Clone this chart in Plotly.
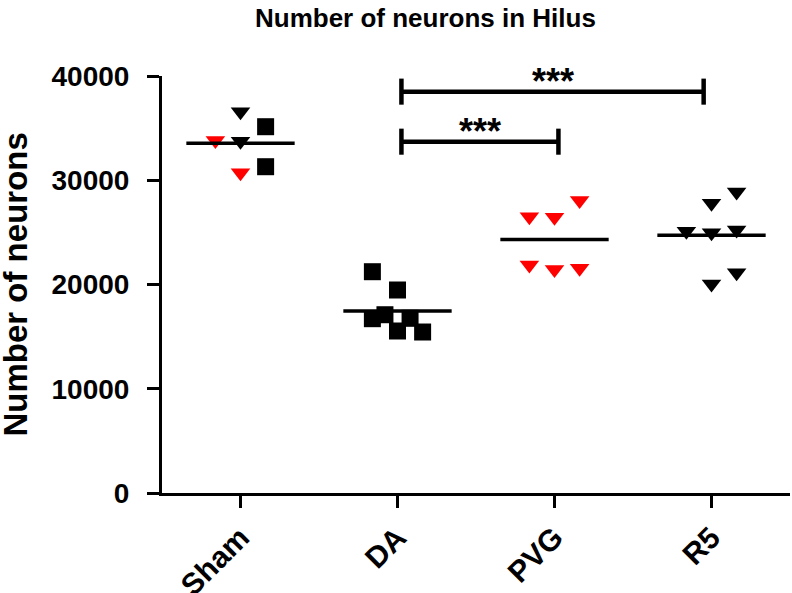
import numpy as np
import plotly.graph_objects as go

# ---------------- data ----------------
groups = ["Sham", "DA", "PVG", "R5"]

sham_black_tri = [36574, 33735]
sham_black_tri_slot = [0, 0]
sham_red_tri = [33812, 30714]
sham_red_tri_slot = [-1, 0]
sham_square = [35136, 31299]
sham_square_slot = [1, 1]

da_square = [21227, 19472, 16720, 17100, 15540, 16757, 15443]
da_square_slot = [-1, 0, -1, -0.5, 0, 0.5, 1]

pvg_red_tri = [26494, 26456, 28057, 21870, 21438, 21553]
pvg_red_tri_slot = [-1, 0, 1, -1, 0, 1]

r5_black_tri = [27788, 28872, 25102, 24958, 25227, 21132, 20058]
r5_black_tri_slot = [0, 1, -1, 0, 1, 1, 0]

y_ticks = [0, 10000, 20000, 30000, 40000]

comparison_from = ["DA", "DA"]
comparison_to = ["R5", "PVG"]
comparison_y = [38500, 33700]
comparison_label = ["***", "***"]

title_text = "Number of neurons in Hilus"
y_title = "Number of neurons"

# ---------------- styling ----------------
FONT = "Liberation Sans, Arial, sans-serif"
SLOT_W = 0.16          # horizontal spread of one scatter slot (category units)
MEAN_HALF = 0.345      # half width of mean line
CAP = 1250             # half height of comparison bar caps
RED = "#ff0000"
BLACK = "#000000"

gx = {g: i for i, g in enumerate(groups)}

fig = go.Figure()


def add_points(group, values, slots, symbol, color, size):
    fig.add_trace(go.Scatter(
        x=[gx[group] + s * SLOT_W for s in slots],
        y=values,
        mode="markers",
        marker=dict(symbol=symbol, color=color, size=size, line=dict(width=0)),
        showlegend=False, hoverinfo="y",
    ))


add_points("Sham", sham_black_tri, sham_black_tri_slot, "triangle-down", BLACK, 17)
add_points("Sham", sham_red_tri, sham_red_tri_slot, "triangle-down", RED, 17)
add_points("Sham", sham_square, sham_square_slot, "square", BLACK, 17)
add_points("DA", da_square, da_square_slot, "square", BLACK, 17)
add_points("PVG", pvg_red_tri, pvg_red_tri_slot, "triangle-down", RED, 17)
add_points("R5", r5_black_tri, r5_black_tri_slot, "triangle-down", BLACK, 17)

group_values = {
    "Sham": sham_black_tri + sham_red_tri + sham_square,
    "DA": da_square,
    "PVG": pvg_red_tri,
    "R5": r5_black_tri,
}
for g in groups:
    m = float(np.mean(group_values[g]))
    fig.add_trace(go.Scatter(
        x=[gx[g] - MEAN_HALF, gx[g] + MEAN_HALF], y=[m, m],
        mode="lines", line=dict(color=BLACK, width=3.5),
        showlegend=False, hoverinfo="skip",
    ))

for a, b, yv, lab in zip(comparison_from, comparison_to, comparison_y, comparison_label):
    xa, xb = gx[a] + 0.025, gx[b] + (0.025 if b == "PVG" else -0.05)
    fig.add_trace(go.Scatter(
        x=[xa, xa, None, xa, xb, None, xb, xb],
        y=[yv - CAP, yv + CAP, None, yv, yv, None, yv - CAP, yv + CAP],
        mode="lines", line=dict(color=BLACK, width=4.5),
        showlegend=False, hoverinfo="skip",
    ))
    fig.add_annotation(
        x=(xa + xb) / 2, y=yv, xref="x", yref="y",
        text=lab, showarrow=False, yanchor="bottom", yshift=-12,
        font=dict(family=FONT, size=36, color=BLACK, weight="bold"),
    )

fig.add_annotation(
    x=0.42, y=1.139, xref="paper", yref="paper",
    text=title_text, showarrow=False, xanchor="center", yanchor="middle",
    font=dict(family=FONT, size=26, color=BLACK, weight="bold"),
)

fig.add_annotation(
    x=-0.234, y=0.5, xref="paper", yref="paper",
    text=y_title, showarrow=False, xanchor="center", yanchor="middle",
    textangle=-90,
    font=dict(family=FONT, size=33, color=BLACK, weight="bold"),
)

fig.update_layout(
    width=792, height=593,
    margin=dict(l=162, r=2, t=76, b=100),
    paper_bgcolor="white", plot_bgcolor="white",
    showlegend=False,
    xaxis=dict(
        range=[-0.5, 3.5], tickmode="array", tickvals=list(range(len(groups))),
        ticktext=groups, tickangle=-45, automargin=False,
        showline=True, linecolor=BLACK, linewidth=3,
        ticks="outside", ticklen=12, tickwidth=3, tickcolor=BLACK,
        showgrid=False, zeroline=False,
        tickfont=dict(family=FONT, size=30, color=BLACK, weight="bold"),
    ),
    yaxis=dict(
        range=[0, 40000], tickmode="array", tickvals=y_ticks, tickformat="d",
        automargin=False,
        showline=True, linecolor=BLACK, linewidth=3,
        ticks="outside", ticklen=12, tickwidth=3, tickcolor=BLACK,
        showgrid=False, zeroline=False, ticklabelstandoff=12,
        tickfont=dict(family=FONT, size=28, color=BLACK, weight="bold"),
    ),
)

fig.write_html(
    "out.html",
    config={"displayModeBar": False},
    post_script="document.body.style.margin='0';document.body.style.overflow='hidden';",
)
